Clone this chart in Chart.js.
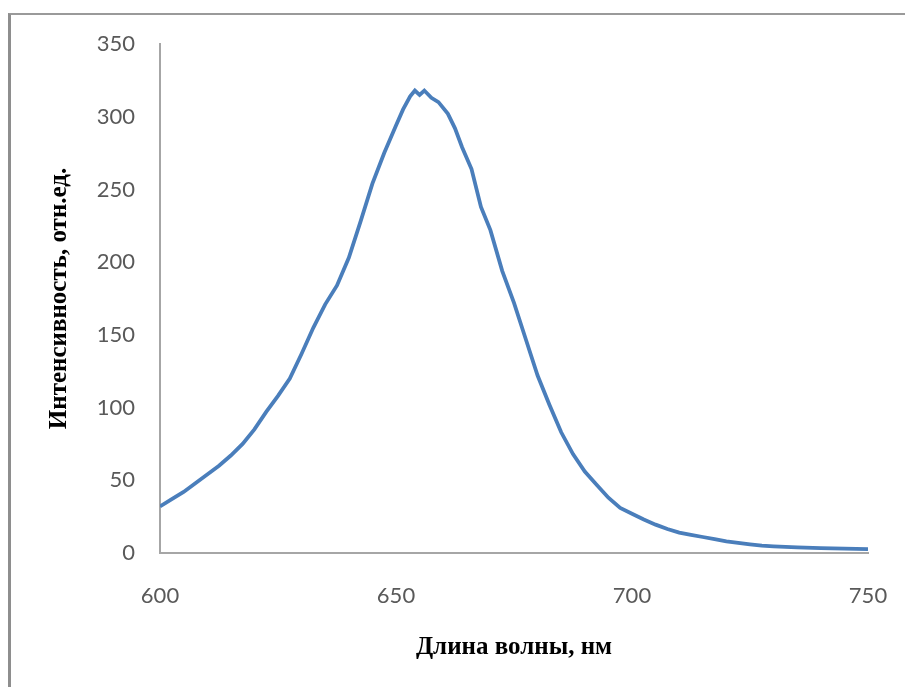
<!DOCTYPE html>
<html>
<head>
<meta charset="utf-8">
<script src="https://cdn.jsdelivr.net/npm/chart.js@4"></script>
<style>
  html, body { margin: 0; padding: 0; background: #fff; }
  #wrap { position: relative; width: 905px; height: 687px; overflow: hidden; }
  #frame {
    position: absolute; left: 8px; top: 13px; width: 1000px; height: 800px;
    border-left: 3px solid #8e8e8e; border-top: 2px solid #9a9a9a;
  }
  #spectrum { position: absolute; left: 0; top: 0; }
</style>
</head>
<body>
<div id="wrap">
  <div id="frame"></div>
  <canvas id="spectrum" width="905" height="687"></canvas>
</div>
<script>
// wavelength, nm
const wavelengths = [600, 602.5, 605, 607.5, 610, 612.5, 615, 617.5, 620, 622.5,
  625, 627.5, 630, 632.5, 635, 637.5, 640, 642.5, 645, 647.5,
  650, 651.5, 653, 654, 655, 656, 657.5, 659, 661, 662.5,
  664, 666, 668, 670, 672.5, 675, 677.5, 680, 682.5, 685,
  687.5, 690, 692.5, 695, 697.5, 700, 702.5, 705, 707.5, 710,
  712.5, 715, 717.5, 720, 722.5, 725, 727.5, 730, 735, 740,
  745, 750];
// intensity, rel. units
const intensity = [32, 37, 42, 48, 54, 60, 67, 75, 85, 97,
  108, 120, 137, 155, 171, 184, 203, 228, 254, 275,
  294, 305, 314, 318, 315, 318, 313, 310, 302, 292,
  279, 264, 238, 222, 194, 172, 147, 122, 102, 83,
  68, 56, 47, 38, 31, 27, 23, 19.5, 16.5, 14,
  12.5, 11, 9.5, 8, 7, 6, 5, 4.5, 3.8, 3.3,
  3, 2.7];

const xTicks = [600, 650, 700, 750];
const yTicks = [0, 50, 100, 150, 200, 250, 300, 350];

const xTitle = 'Длина волны, нм';
const yTitle = 'Интенсивность, отн.ед.';

const points = wavelengths.map((w, i) => ({ x: w, y: intensity[i] }));

const ctx = document.getElementById('spectrum').getContext('2d');

const tickFont = { family: 'Lato', size: 22 };
const titleFont = { family: 'Liberation Serif', size: 25, weight: 'bold' };

new Chart(ctx, {
  type: 'line',
  data: {
    datasets: [{
      data: points,
      borderColor: '#4a7ebb',
      borderWidth: 3.8,
      pointRadius: 0,
      tension: 0,
      fill: false
    }]
  },
  options: {
    responsive: false,
    animation: false,
    layout: { padding: { top: 44, right: 37, left: 0, bottom: 0 } },
    plugins: {
      legend: { display: false },
      tooltip: { enabled: false }
    },
    scales: {
      x: {
        type: 'linear',
        min: 600,
        max: 750,
        afterBuildTicks: (axis) => { axis.ticks = xTicks.map(v => ({ value: v })); },
        afterFit: (axis) => {
          axis.height = 134;
          axis.paddingLeft = 0;
          axis.paddingRight = 0;
        },
        grid: { display: false, drawTicks: false },
        border: { display: true, color: '#a6a6a6', width: 2 },
        ticks: { color: '#595959', font: tickFont, padding: 30, maxRotation: 0 },
        title: { display: true, text: xTitle, color: '#000', font: titleFont, padding: { top: 0, bottom: 24 } }
      },
      y: {
        min: 0,
        max: 350,
        afterBuildTicks: (axis) => { axis.ticks = yTicks.map(v => ({ value: v })); },
        afterFit: (axis) => { axis.width = 160; },
        grid: { display: false, drawTicks: false },
        border: { display: true, color: '#a6a6a6', width: 2 },
        ticks: { color: '#595959', font: tickFont, padding: 25 },
        title: { display: true, text: yTitle, color: '#000', font: titleFont, padding: { top: 45, bottom: 0 } }
      }
    }
  }
});
</script>
</body>
</html>
